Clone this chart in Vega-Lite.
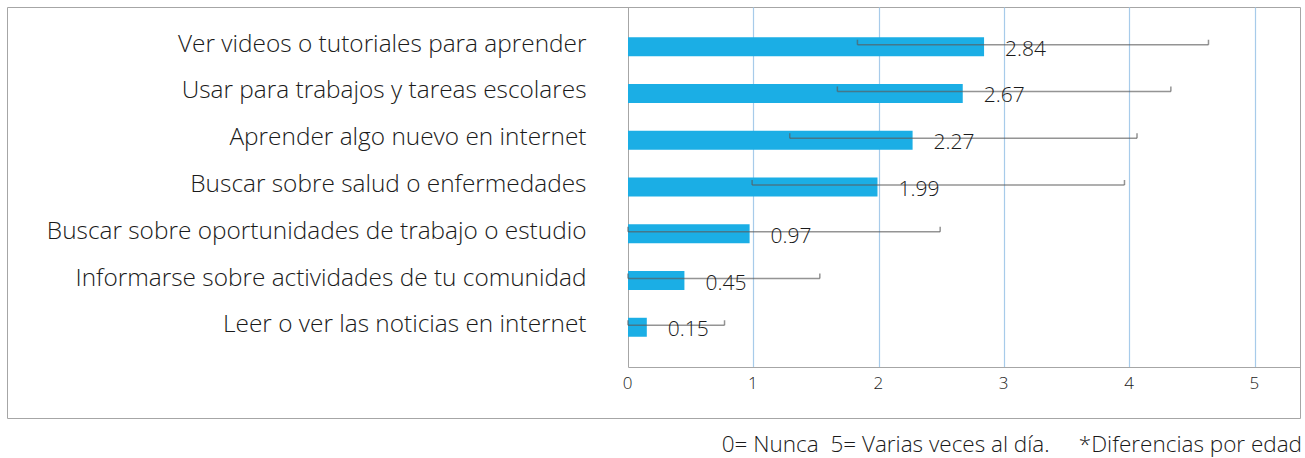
{
  "$schema": "https://vega.github.io/schema/vega-lite/v6.json",
  "autosize": {"type": "none"},
  "width": 1293,
  "height": 411,
  "padding": {"left": 7, "top": 7, "right": 5, "bottom": 40},
  "background": "white",
  "config": {"view": {"stroke": "#a6a6a6", "strokeWidth": 1}, "font": "Open Sans"},
  "title": {
    "text": "0= Nunca\u00a0\u00a05= Varias veces al día.\u00a0\u00a0\u00a0\u00a0\u00a0*Diferencias por edad",
    "orient": "bottom",
    "anchor": "end",
    "frame": "group",
    "offset": 16,
    "dx": 2,
    "fontSize": 22.5,
    "fontWeight": 300,
    "font": "Open Sans",
    "color": "#1a1a1a"
  },
  "data": {
    "values": [
      {"actividad": "Ver videos o tutoriales para aprender", "media": 2.84, "bajo": 1.83, "alto": 4.63},
      {"actividad": "Usar para trabajos y tareas escolares", "media": 2.67, "bajo": 1.67, "alto": 4.33},
      {"actividad": "Aprender algo nuevo en internet", "media": 2.27, "bajo": 1.29, "alto": 4.06},
      {"actividad": "Buscar sobre salud o enfermedades", "media": 1.99, "bajo": 0.99, "alto": 3.96},
      {"actividad": "Buscar sobre oportunidades de trabajo o estudio", "media": 0.97, "bajo": 0, "alto": 2.49},
      {"actividad": "Informarse sobre actividades de tu comunidad", "media": 0.45, "bajo": 0, "alto": 1.53},
      {"actividad": "Leer o ver las noticias en internet", "media": 0.15, "bajo": 0, "alto": 0.77}
    ]
  },
  "resolve": {"scale": {"x": "shared"}, "axis": {"x": "independent"}},
  "encoding": {
    "y": {
      "field": "actividad",
      "type": "nominal",
      "sort": null,
      "scale": {"range": [0, 360], "paddingInner": 0.594, "paddingOuter": 0.647},
      "axis": {
        "title": null,
        "orient": "left",
        "offset": -621,
        "ticks": false,
        "domain": true,
        "domainColor": "#a6a6a6",
        "grid": false,
        "labelFont": "Open Sans",
        "labelFontWeight": 300,
        "labelFontSize": 24.4,
        "labelColor": "#1a1a1a",
        "labelPadding": 42,
        "labelLimit": 700,
        "labelOffset": -2
      }
    },
    "x": {
      "field": "media",
      "type": "quantitative",
      "scale": {"domain": [0, 5.36], "range": [621, 1293], "nice": false, "zero": true}
    }
  },
  "layer": [
    {
      "mark": {"type": "bar", "color": "#1BAEE5"},
      "encoding": {
        "x": {
          "field": "media",
          "type": "quantitative",
          "axis": {
            "title": null,
            "orient": "bottom",
            "offset": -51,
            "values": [0, 1, 2, 3, 4, 5],
            "ticks": false,
            "domain": true,
            "domainColor": "#a6a6a6",
            "grid": false,
            "labelFont": "Open Sans",
            "labelFontWeight": 300,
            "labelFontSize": 17,
            "labelColor": "#1a1a1a",
            "labelPadding": 8,
            "labelFlush": false,
            "labelOffset": -1
          }
        }
      }
    },
    {
      "mark": {"type": "rule", "color": "#5a5a5a", "opacity": 0.65, "strokeWidth": 1.5, "yOffset": -2},
      "encoding": {
        "x": {
          "field": "bajo",
          "type": "quantitative",
          "axis": {
            "title": null,
            "orient": "top",
            "offset": 0,
            "values": [1, 2, 3, 4, 5],
            "ticks": false,
            "domain": false,
            "labels": false,
            "grid": true,
            "gridColor": "#A7CBEA",
            "gridWidth": 1.2
          }
        },
        "x2": {"field": "alto"}
      }
    },
    {
      "mark": {"type": "tick", "color": "#5a5a5a", "opacity": 0.65, "thickness": 1.5, "size": 5, "yOffset": -4.5},
      "encoding": {"x": {"field": "bajo", "type": "quantitative", "axis": null}}
    },
    {
      "mark": {"type": "tick", "color": "#5a5a5a", "opacity": 0.65, "thickness": 1.5, "size": 5, "yOffset": -4.5},
      "encoding": {"x": {"field": "alto", "type": "quantitative", "axis": null}}
    },
    {
      "mark": {"type": "text", "align": "left", "baseline": "alphabetic", "dx": 21, "dy": 9, "fontSize": 21, "fontWeight": 300, "font": "Open Sans", "color": "#1a1a1a"},
      "encoding": {
        "x": {"field": "media", "type": "quantitative", "axis": null},
        "text": {"field": "media", "type": "quantitative", "format": ".2f"}
      }
    }
  ]
}
